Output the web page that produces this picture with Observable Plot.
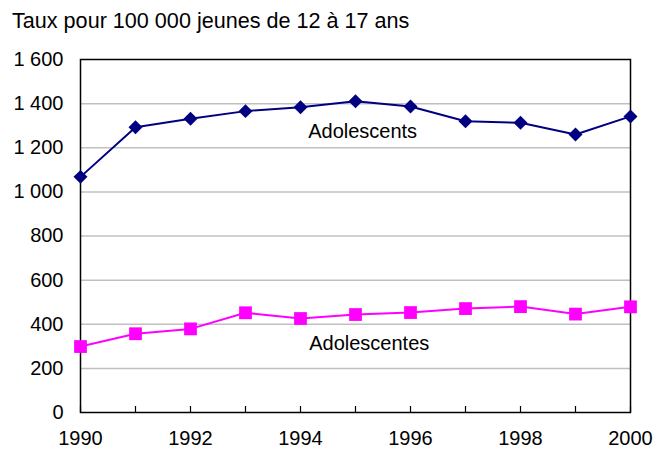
<!DOCTYPE html>
<html>
<head>
<meta charset="utf-8">
<script src="https://cdn.jsdelivr.net/npm/d3@7"></script>
<script src="https://cdn.jsdelivr.net/npm/@observablehq/plot@0.6"></script>
<style>
  body { margin: 0; background: #fff; font-family: "Liberation Sans", Arial, sans-serif; }
  #title { height: 45px; box-sizing: border-box; padding: 9px 0 0 12px; font-size: 21.6px; line-height: 24px; color: #000; white-space: nowrap; }
</style>
</head>
<body>
<div id="title">Taux pour 100 000 jeunes de 12 à 17 ans</div>
<div id="chart"></div>
<script>
const years = [1990, 1991, 1992, 1993, 1994, 1995, 1996, 1997, 1998, 1999, 2000];
const adolescents = [1068, 1293, 1331, 1366, 1384, 1411, 1387, 1320, 1313, 1260, 1342];
const adolescentes = [299, 357, 379, 452, 426, 444, 453, 471, 480, 446, 479];
const seriesLabels = ["Adolescents", "Adolescentes"];
const labelYears = [1995.13, 1995.25];
const labelValues = [1274, 313];
const yTicks = [0, 200, 400, 600, 800, 1000, 1200, 1400, 1600];

const boys = years.map((y, i) => ({year: y, value: adolescents[i]}));
const girls = years.map((y, i) => ({year: y, value: adolescentes[i]}));
const labels = seriesLabels.map((s, i) => ({text: s, year: labelYears[i], value: labelValues[i]}));

const fmt = d => d3.format(",")(d).replace(/,/g, " ");

const chart = Plot.plot({
  width: 656,
  height: 406,
  marginTop: 14,
  marginBottom: 39,
  marginLeft: 80,
  marginRight: 26,
  style: {fontFamily: "'Liberation Sans', Arial, sans-serif", fontSize: "20px", color: "#000", background: "#fff", overflow: "visible"},
  x: {domain: [1990, 2000]},
  y: {domain: [0, 1600]},
  marks: [
    Plot.gridY(yTicks.filter(d => d > 0 && d < 1600), {stroke: "#c0c0c0", strokeOpacity: 1, strokeWidth: 1.5}),
    Plot.axisX(years, {tickSize: -6, text: null, stroke: "#000", strokeWidth: 1.2, label: null}),
    Plot.frame({stroke: "#000", strokeWidth: 1.5}),
    Plot.axisY(yTicks, {tickSize: 0, tickPadding: 17, tickFormat: fmt, fontSize: 20, label: null}),
    Plot.axisX(years.filter(d => d % 2 === 0), {tickSize: 0, tickPadding: 18, tickFormat: d => String(d), fontSize: 20, label: null}),
    Plot.line(boys, {x: "year", y: "value", stroke: "#000080", strokeWidth: 2}),
    Plot.dot(boys, {x: "year", y: "value", symbol: "diamond2", r: 6.3, fill: "#000080", stroke: "none"}),
    Plot.line(girls, {x: "year", y: "value", stroke: "#ff00ff", strokeWidth: 2}),
    Plot.dot(girls, {x: "year", y: "value", symbol: "square", r: 7.2, fill: "#ff00ff", stroke: "none"}),
    Plot.text(labels, {x: "year", y: "value", text: "text", fontSize: 20, fill: "#000"})
  ]
});
document.getElementById("chart").appendChild(chart);
</script>
</body>
</html>
